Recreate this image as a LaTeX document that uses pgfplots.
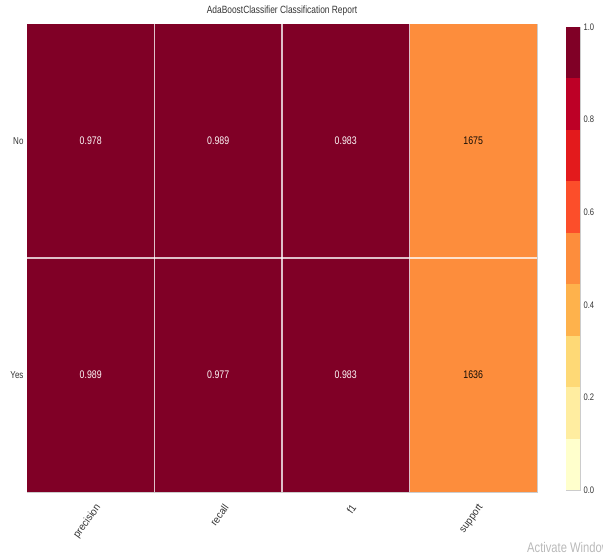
\documentclass[border=0pt]{standalone}
\usepackage{pgfplots}
\pgfplotsset{compat=1.18}
\usepackage{pgfplotstable}
\usepackage{fontspec}
\setmainfont{Liberation Sans}[FakeStretch=0.8]
\newfontfamily\rotfont{Liberation Sans}[FakeStretch=0.92]

\definecolor{c1}{HTML}{FFFFCC}
\definecolor{c2}{HTML}{FFEDA0}
\definecolor{c3}{HTML}{FED976}
\definecolor{c4}{HTML}{FEB24C}
\definecolor{c5}{HTML}{FD8D3C}
\definecolor{c6}{HTML}{FC4E2A}
\definecolor{c7}{HTML}{E31A1C}
\definecolor{c8}{HTML}{BD0026}
\definecolor{c9}{HTML}{800026}
\definecolor{tickgray}{HTML}{333333}
\definecolor{framegray}{HTML}{CCCCCC}

% cell centres and reported values
\pgfplotstableread{
x y label
0.5 1.5 0.978
1.5 1.5 0.989
2.5 1.5 0.983
0.5 0.5 0.989
1.5 0.5 0.977
2.5 0.5 0.983
}\scoretable
\pgfplotstableread{
x y label
3.5 1.5 1675
3.5 0.5 1636
}\supporttable

\begin{document}
\begin{tikzpicture}
\path[use as bounding box] (0,0) rectangle (603pt,554pt);
\begin{axis}[
  at={(27pt,62pt)}, anchor=south west,
  scale only axis, width=510pt, height=468pt,
  xmin=0, xmax=4, ymin=0, ymax=2,
  axis line style={draw=framegray, line width=0.8pt},
  major tick length=0pt,
  xtick={0.5,1.5,2.5,3.5},
  xticklabels={precision,recall,f1,support},
  ytick={0.5,1.5},
  yticklabels={Yes,No},
  tick label style={font=\fontsize{10}{11}\selectfont, text=tickgray},
  xticklabel style={font=\rotfont\fontsize{10.5}{12}\selectfont, anchor=east, xshift=10pt, yshift=-11pt, rotate=54},
  title={AdaBoostClassifier Classification Report},
  title style={font=\fontsize{10.5}{12}\selectfont, text=tickgray, yshift=-1pt},
  clip=false,
]
% cells (precision, recall, f1 on the score scale; support as a share of 3311)
\addplot[fill=c9, draw=none] coordinates {(0,0) (3,0) (3,2) (0,2)} -- cycle;
\addplot[fill=c5, draw=none] coordinates {(3,0) (4,0) (4,2) (3,2)} -- cycle;
% cell borders
\addplot[draw=white, opacity=0.75, line width=1.3pt] coordinates {(0,1) (4,1)};
\addplot[draw=white, opacity=0.75, line width=1.3pt] coordinates {(1,0) (1,2)};
\addplot[draw=white, opacity=0.75, line width=1.3pt] coordinates {(2,0) (2,2)};
\addplot[draw=white, opacity=0.75, line width=1.3pt] coordinates {(3,0) (3,2)};
% values
\addplot[only marks, mark=none, point meta=explicit symbolic,
  nodes near coords, nodes near coords align={center},
  every node near coord/.append style={font=\fontsize{11}{12}\selectfont, text=white!92!pink, anchor=center}]
  table[x=x, y=y, meta=label] {\scoretable};
\addplot[only marks, mark=none, point meta=explicit symbolic,
  nodes near coords, nodes near coords align={center},
  every node near coord/.append style={font=\fontsize{11}{12}\selectfont, text=black!90!brown, anchor=center}]
  table[x=x, y=y, meta=label] {\supporttable};
\end{axis}

\begin{axis}[
  at={(566pt,64pt)}, anchor=south west,
  scale only axis, width=14pt, height=463pt,
  xmin=0, xmax=1, ymin=0, ymax=1,
  axis line style={draw=framegray, line width=0.6pt},
  xtick=\empty,
  ytick={0,0.2,0.4,0.6,0.8,1.0},
  yticklabel pos=right,
  major tick length=0pt,
  tick label style={font=\fontsize{9.5}{10}\selectfont, text=tickgray},
  /pgf/number format/.cd, fixed, fixed zerofill, precision=1, assume math mode=true,
]
\addplot[fill=c1, draw=none] coordinates {(0,0) (1,0) (1,0.1111) (0,0.1111)} -- cycle;
\addplot[fill=c2, draw=none] coordinates {(0,0.1111) (1,0.1111) (1,0.2222) (0,0.2222)} -- cycle;
\addplot[fill=c3, draw=none] coordinates {(0,0.2222) (1,0.2222) (1,0.3333) (0,0.3333)} -- cycle;
\addplot[fill=c4, draw=none] coordinates {(0,0.3333) (1,0.3333) (1,0.4444) (0,0.4444)} -- cycle;
\addplot[fill=c5, draw=none] coordinates {(0,0.4444) (1,0.4444) (1,0.5556) (0,0.5556)} -- cycle;
\addplot[fill=c6, draw=none] coordinates {(0,0.5556) (1,0.5556) (1,0.6667) (0,0.6667)} -- cycle;
\addplot[fill=c7, draw=none] coordinates {(0,0.6667) (1,0.6667) (1,0.7778) (0,0.7778)} -- cycle;
\addplot[fill=c8, draw=none] coordinates {(0,0.7778) (1,0.7778) (1,0.8889) (0,0.8889)} -- cycle;
\addplot[fill=c9, draw=none] coordinates {(0,0.8889) (1,0.8889) (1,1) (0,1)} -- cycle;
\end{axis}

\node[anchor=base west, inner sep=0pt, text=gray!55, font=\fontsize{14}{14}\selectfont] at (527pt,1pt) {Activate Windows};
\end{tikzpicture}
\end{document}
